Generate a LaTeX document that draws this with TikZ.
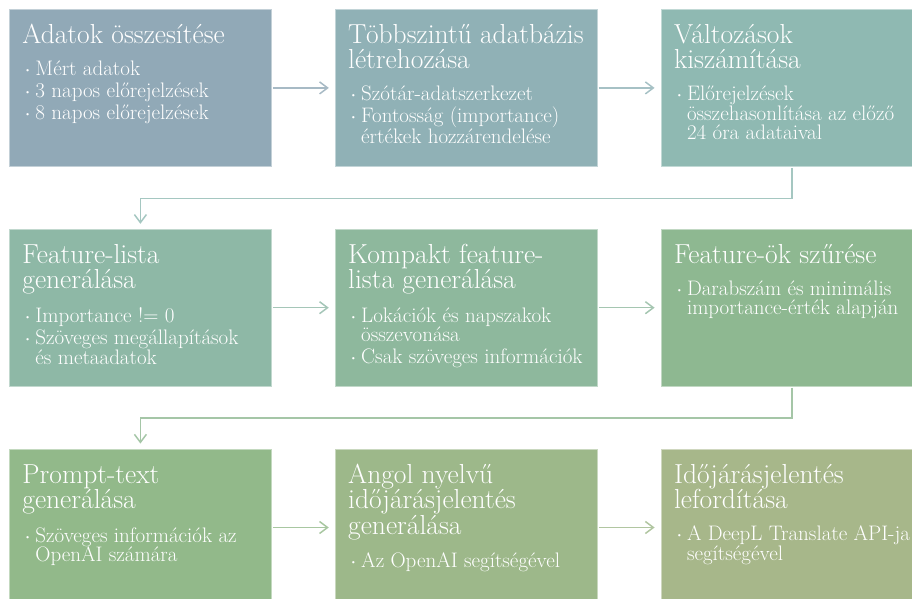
\documentclass[tikz,border=0pt]{standalone}
\usepackage{tikz}
\usetikzlibrary{arrows.meta,positioning}

\definecolor{dobA}{RGB}{145,169,183}
\definecolor{dobB}{RGB}{144,177,182}
\definecolor{dobC}{RGB}{143,185,178}
\definecolor{dobD}{RGB}{142,184,166}
\definecolor{dobE}{RGB}{142,184,157}
\definecolor{dobF}{RGB}{142,184,145}
\definecolor{dobG}{RGB}{146,185,138}
\definecolor{dobH}{RGB}{157,184,138}
\definecolor{dobI}{RGB}{167,183,138}

% bullet line with hanging indent
\newcommand{\itm}[1]{\par\vspace{2.5pt}\hangindent=13pt\hangafter=1\noindent\hspace*{2pt}\makebox[11pt][l]{\raisebox{.35ex}{\fontsize{8}{8}\selectfont\textbullet}}#1}
\newcommand{\cim}[1]{{\fontsize{27.5}{25.5}\selectfont\rule{0pt}{34pt}#1\par}}
\newcommand{\doboz}[2]{\parbox[t][157pt][t]{236pt}{\raggedright\cim{#1}\vspace{10pt}\fontsize{21}{19.5}\selectfont #2\par}}

\begin{document}
\begin{tikzpicture}[x=1pt,y=-1pt,
  lepes/.style={fill=#1, draw=white!45!#1, line width=0.8pt, text=white, inner xsep=13pt, inner ysep=0pt, anchor=north west},
  nyil/.style={draw=white!20!#1, line width=1.5pt, shorten <=1pt, shorten >=6pt, -{Straight Barb[length=8pt,width=12pt]}}]

\useasboundingbox (0,0) rectangle (912,599);
\clip (0,0) rectangle (912,599);

% first row
\node[lepes=dobA] (osszes) at (9,9) {\doboz{Adatok összesítése}{\itm{Mért adatok}\itm{3 napos előrejelzések}\itm{8 napos előrejelzések}}};
\node[lepes=dobB, right=63pt of osszes.north east, anchor=north west] (adatb) {\doboz{Többszintű adatbázis\\létrehozása}{\itm{Szótár-adatszerkezet}\itm{Fontosság (importance)\newline értékek hozzárendelése}}};
\node[lepes=dobC, right=63pt of adatb.north east, anchor=north west] (valt) {\doboz{Változások\\kiszámítása}{\itm{Előrejelzések\newline összehasonlítása az előző\newline 24 óra adataival}}};

% second row
\node[lepes=dobD, below=62pt of osszes.south west, anchor=north west] (flista) {\doboz{Feature-lista\\generálása}{\itm{Importance != 0}\itm{Szöveges megállapítások\newline és metaadatok}}};
\node[lepes=dobE, right=63pt of flista.north east, anchor=north west] (kompakt) {\doboz{Kompakt feature-\\lista generálása}{\itm{Lokációk és napszakok\newline összevonása}\itm{Csak szöveges információk}}};
\node[lepes=dobF, right=63pt of kompakt.north east, anchor=north west] (szures) {\doboz{Feature-ök szűrése}{\itm{Darabszám és minimális\newline importance-érték alapján}}};

% third row
\node[lepes=dobG, below=62pt of flista.south west, anchor=north west] (prompt) {\doboz{Prompt-text\\generálása}{\itm{Szöveges információk az\newline OpenAI számára}}};
\node[lepes=dobH, right=63pt of prompt.north east, anchor=north west] (angol) {\doboz{Angol nyelvű\\időjárásjelentés\\generálása}{\itm{Az OpenAI segítségével}}};
\node[lepes=dobI, right=63pt of angol.north east, anchor=north west] (ford) {\doboz{Időjárásjelentés\\lefordítása}{\itm{A DeepL Translate API-ja\newline segítségével}}};

\draw[nyil=dobA] (osszes) -- (adatb);
\draw[nyil=dobB] (adatb) -- (valt);
\draw[nyil=dobC, shorten >=5pt] (valt.south) -- ++(0,31.5) -| (flista.north);
\draw[nyil=dobD] (flista) -- (kompakt);
\draw[nyil=dobE] (kompakt) -- (szures);
\draw[nyil=dobF, shorten >=5pt] (szures.south) -- ++(0,31.5) -| (prompt.north);
\draw[nyil=dobG] (prompt) -- (angol);
\draw[nyil=dobH] (angol) -- (ford);

\end{tikzpicture}
\end{document}
